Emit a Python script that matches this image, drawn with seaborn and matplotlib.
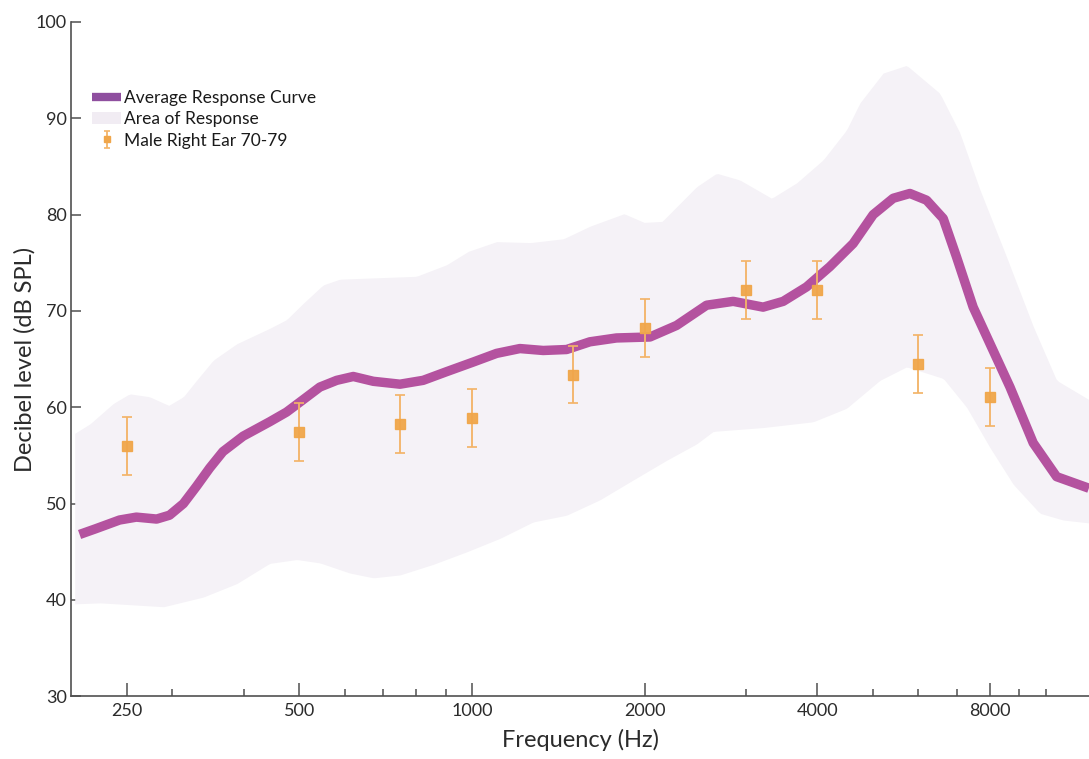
import matplotlib
matplotlib.use("Agg")
import matplotlib.pyplot as plt
from matplotlib.lines import Line2D
from matplotlib.patches import Patch
import numpy as np
import pandas as pd
import seaborn as sns

# Average response curve (Hz, dB SPL)
avg_freq = [207, 221, 243, 260, 282, 297, 314, 331, 349, 368, 399, 444, 475, 508,
            543, 581, 621, 673, 749, 822, 903, 1005, 1104, 1212, 1331, 1462, 1605,
            1786, 2043, 2273, 2564, 2853, 3217, 3487, 3830, 4205, 4618, 5004, 5423,
            5799, 6200, 6629, 6993, 7475, 7998, 8666, 9513, 10449, 11895]
avg_db = [46.8, 47.4, 48.3, 48.6, 48.4, 48.8, 50.0, 51.8, 53.7, 55.4, 57.0, 58.5,
          59.5, 60.8, 62.1, 62.8, 63.2, 62.7, 62.4, 62.8, 63.7, 64.7, 65.6, 66.1,
          65.9, 66.0, 66.8, 67.2, 67.3, 68.5, 70.6, 71.0, 70.4, 71.0, 72.5, 74.6,
          77.0, 80.0, 81.7, 82.2, 81.5, 79.6, 75.6, 70.4, 66.6, 62.1, 56.3, 52.8, 51.6]

# Area of response: upper and lower envelopes
upper_freq = [203, 216, 237, 253, 274, 296, 314, 331, 354, 389, 444, 475, 508, 550,
              588, 650, 800, 903, 986, 1104, 1265, 1444, 1605, 1841, 1995, 2145,
              2463, 2669, 2930, 3329, 3680, 4095, 4497, 4744, 5208, 5723, 6539,
              7085, 7680, 8549, 9513, 10449, 11900]
upper_db = [57.3, 58.3, 60.4, 61.4, 61.1, 60.2, 61.1, 62.8, 64.9, 66.6, 68.2, 69.1,
            70.8, 72.7, 73.3, 73.4, 73.6, 74.8, 76.2, 77.2, 77.1, 77.5, 78.8, 80.1,
            79.2, 79.3, 82.9, 84.3, 83.6, 81.7, 83.3, 85.7, 88.8, 91.6, 94.7, 95.5,
            92.6, 88.5, 82.6, 75.6, 68.4, 62.8, 60.8]
lower_freq = [203, 225, 290, 340, 389, 444, 495, 543, 612, 673, 749, 856, 979, 1119,
              1278, 1462, 1671, 1909, 2184, 2463, 2633, 3217, 3933, 4497, 5141, 5723,
              6629, 7282, 8000, 8780, 9770, 10726, 11900]
lower_db = [39.6, 39.7, 39.3, 40.3, 41.7, 43.8, 44.2, 43.85, 42.8, 42.3, 42.6, 43.7,
            45.0, 46.4, 48.1, 48.8, 50.4, 52.45, 54.5, 56.2, 57.5, 57.9, 58.5, 59.9,
            62.8, 64.2, 63.0, 60.0, 55.8, 52.0, 49.0, 48.3, 48.0]

# Male right ear, age 70-79
group_freq = [250, 500, 750, 1000, 1500, 2000, 3000, 4000, 6000, 8000]
group_db = [56.0, 57.4, 58.3, 58.9, 63.4, 68.2, 72.2, 72.2, 64.5, 61.1]
group_err = [3.0, 3.0, 3.0, 3.0, 3.0, 3.0, 3.0, 3.0, 3.0, 3.0]

major_ticks = [250, 500, 1000, 2000, 4000, 8000]
minor_ticks = [300, 400, 600, 700, 800, 900, 3000, 5000, 6000, 7000, 9000, 10000]
y_ticks = [30, 40, 50, 60, 70, 80, 90, 100]

CURVE = "#b4529f"
CURVE_KEY = "#8f4f9f"
BAND = "#f5f2f7"
ORANGE = "#f0a64a"
ERR = "#f3b468"
AXIS = "#505050"

sns.set_theme(style="white")
plt.rcParams["font.family"] = ["Lato", "DejaVu Sans"]

fig = plt.figure(figsize=(10.89, 7.59), dpi=100)
ax = fig.add_axes([71 / 1089, (759 - 696.3) / 759, 1018 / 1089, 674.3 / 759])

# Envelope: interpolate both edges on a shared log-frequency grid
grid = np.geomspace(203, 11900, 400)
up = np.interp(np.log(grid), np.log(upper_freq), upper_db)
lo = np.interp(np.log(grid), np.log(lower_freq), lower_db)
ax.fill_between(grid, lo, up, color=BAND, linewidth=0, zorder=1)

curve_df = pd.DataFrame({"Frequency": avg_freq, "dB": avg_db})
sns.lineplot(data=curve_df, x="Frequency", y="dB", ax=ax, color=CURVE,
             linewidth=6.8, solid_capstyle="butt", solid_joinstyle="round",
             zorder=3, legend=False)

ax.errorbar(group_freq, group_db, yerr=group_err, fmt="s", ms=6.5,
            mfc=ORANGE, mec=ORANGE, ecolor=ERR, elinewidth=1.4,
            capsize=3.5, capthick=1.3, zorder=4, alpha=0.95)

# smaller errorbar glyph used only as the legend key
key_eb = ax.errorbar([np.nan], [np.nan], yerr=[1.0], fmt="s", ms=4.5,
                     mfc=ORANGE, mec=ORANGE, ecolor=ERR, elinewidth=1.3,
                     capsize=2.5, capthick=1.2)

ax.set_xscale("log")
ax.set_xlim(200, 11900)
ax.set_ylim(30, 100)

ax.set_xticks(major_ticks)
ax.set_xticklabels([str(t) for t in major_ticks])
ax.set_xticks(minor_ticks, minor=True)
ax.xaxis.set_minor_formatter(matplotlib.ticker.NullFormatter())
ax.set_yticks(y_ticks)
ax.set_yticklabels([str(t) for t in y_ticks])

ax.tick_params(axis="x", which="major", direction="in", length=9.5, width=1.1,
               color=AXIS, labelsize=13, labelcolor="#2b2b2b", pad=5,
               bottom=True)
ax.tick_params(axis="x", which="minor", direction="in", length=5, width=1.1,
               color=AXIS, bottom=True)
ax.tick_params(axis="y", which="major", direction="in", length=7.5, width=1.1,
               color=AXIS, labelsize=13, labelcolor="#2b2b2b", pad=3, left=True)

for side in ("top", "right"):
    ax.spines[side].set_visible(False)
for side in ("left", "bottom"):
    ax.spines[side].set_color(AXIS)
    ax.spines[side].set_linewidth(1.2)
ax.grid(False)

ax.set_xlabel("Frequency (Hz)", fontsize=17, color="#2b2b2b", labelpad=7)
ax.set_ylabel("Decibel level (dB SPL)", fontsize=17, color="#2b2b2b", labelpad=0)

handles = [
    Line2D([0], [0], color=CURVE_KEY, linewidth=6, solid_capstyle="butt"),
    Patch(facecolor="#f1ecf3", edgecolor="none"),
    key_eb,
]
labels = ["Average Response Curve", "Area of Response", "Male Right Ear 70-79"]
leg = ax.legend(handles, labels, loc="upper left", bbox_to_anchor=(0.021, 0.899),
                frameon=False, fontsize=12.5, handlelength=1.65, handletextpad=0.17,
                labelspacing=0.3, borderpad=0, borderaxespad=0)
for t in leg.get_texts():
    t.set_color("#1a1a1a")

fig.savefig("out.png", dpi=100)
